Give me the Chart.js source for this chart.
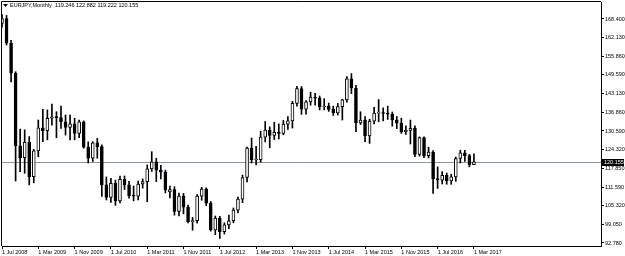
<!DOCTYPE html>
<html>
<head>
<meta charset="utf-8">
<script src="https://cdn.jsdelivr.net/npm/chart.js@4.4.0/dist/chart.umd.min.js"></script>
<style>
html, body { margin: 0; padding: 0; background: #fff; }
canvas { display: block; }
</style>
</head>
<body>
<canvas id="candles" width="625" height="256"></canvas>
<script>
// EURJPY monthly, first bar = Jul 2008
var symbol = 'EURJPY,Monthly';
var startYear = 2008;
var startMonth = 6; // 0 = Jan
var monthNames = ['Jan','Feb','Mar','Apr','May','Jun','Jul','Aug','Sep','Oct','Nov','Dec'];

var open = [166.9,168.5,160.2,150.1,125.6,121.6,126.8,115.2,123.9,131.7,130.7,134.9,135.4,135.1,133.7,131.8,133.0,129.8,133.7,125.1,
  121.4,126.6,125.3,112.4,108.2,112.9,107.0,114.3,112.4,108.8,108.6,112.7,113.5,117.8,120.2,117.4,116.7,110.0,110.8,103.4,
  108.6,104.9,100.0,100.3,108.6,111.0,106.2,97.2,101.2,96.6,98.9,100.3,103.9,107.6,114.9,124.8,120.8,120.9,128.5,130.9,
  129.1,130.1,129.8,132.9,134.0,139.9,144.9,138.0,140.4,142.0,141.7,138.7,139.0,137.9,136.7,138.8,141.1,148.2,145.1,133.3,
  134.3,128.9,133.9,136.6,136.8,136.5,136.3,134.3,133.2,130.4,130.8,131.5,122.7,128.4,122.3,123.5,114.5,114.0,115.6,113.7,
  115.1,121.3,123.2,122.3,119.246];
var high = [169.9,169.6,161.2,150.6,131.2,131.0,128.7,124.4,134.3,137.9,137.7,139.7,137.1,139.0,136.0,136.0,134.9,134.3,134.0,126.9,
  127.0,128.1,125.9,115.1,114.6,114.0,115.4,115.4,113.6,112.0,113.7,114.4,119.1,123.6,121.4,119.0,117.4,112.0,111.8,109.6,
  109.5,105.6,101.4,109.1,111.6,111.4,106.8,101.9,101.8,99.6,102.2,104.6,108.3,115.7,125.2,128.2,125.4,130.5,133.8,132.0,
  133.5,133.0,134.2,135.5,140.6,145.7,145.6,140.9,143.7,143.3,142.4,141.5,140.0,139.0,139.9,141.3,149.0,150.0,146.0,137.1,
  135.5,134.6,138.6,141.2,138.4,139.0,137.0,135.5,134.9,132.3,134.3,132.3,128.6,128.6,125.1,124.0,118.5,116.9,116.4,116.0,
  121.8,124.1,124.1,122.7,122.882];
var low = [165.6,159.6,147.2,113.7,116.9,116.3,112.4,113.1,121.9,127.0,127.6,132.6,128.3,131.5,129.2,127.6,127.6,128.3,124.8,119.8,
  120.3,121.4,108.5,107.3,106.5,105.5,106.3,110.8,107.9,107.0,107.3,111.3,106.7,116.9,113.5,114.4,109.7,108.0,102.2,101.9,
  102.6,99.6,97.1,99.5,107.2,105.4,96.8,95.6,94.3,95.8,97.6,99.6,102.9,106.4,113.4,119.8,119.1,120.1,126.9,124.9,
  127.7,127.9,129.3,131.1,131.6,139.0,136.2,136.3,139.3,139.3,137.7,137.7,137.2,135.8,136.0,134.3,140.3,143.2,130.4,132.8,
  127.0,126.4,133.0,133.7,134.0,134.5,132.2,131.4,129.8,129.4,126.2,121.9,122.1,121.6,121.5,109.5,111.2,112.7,112.6,112.6,
  113.6,119.8,120.3,118.5,119.222];
var close = [168.5,160.2,150.1,125.6,121.6,126.8,115.2,123.9,131.7,130.7,134.9,135.4,135.1,133.7,131.8,133.0,129.8,133.7,125.1,121.4,
  126.6,125.3,112.4,108.2,112.9,107.0,114.3,112.4,108.8,108.6,112.7,113.5,117.8,120.2,117.4,116.7,110.7,110.8,103.4,108.6,
  104.9,100.0,100.3,108.6,111.0,106.2,97.2,101.2,96.6,98.9,100.3,103.9,107.6,114.9,124.8,120.8,120.9,128.5,130.9,129.1,
  130.1,129.8,132.9,134.0,139.9,144.9,138.0,140.4,142.0,141.7,138.7,139.0,137.9,136.7,138.8,141.1,148.2,145.1,133.3,134.3,
  128.9,133.9,136.6,136.8,136.5,136.3,134.3,133.2,130.4,130.8,131.5,122.7,128.4,122.3,123.5,114.5,114.0,115.6,113.7,115.1,
  121.3,123.2,122.3,119.25,120.155];

// price scale labels as shown on the right
var priceTicks = [168.400,162.130,155.860,149.590,143.130,136.860,130.590,124.320,117.850,111.590,105.320,99.050,92.780];
var dateTickStep = 8; // a date label every 8 bars

var fontFamily = '"Liberation Sans", Arial, sans-serif';

function monthLabel(i) {
  var m = startMonth + i;
  return '1 ' + monthNames[m % 12] + ' ' + (startYear + Math.floor(m / 12));
}

var bodies = [], wicks = [], bodyColors = [];
for (var i = 0; i < open.length; i++) {
  bodies.push({ x: i, y: [open[i], close[i]] });
  wicks.push({ x: i, y: [low[i], high[i]] });
  bodyColors.push(close[i] >= open[i] ? '#ffffff' : '#000000');
}
var dateTicks = [];
for (var t = 0; t < open.length; t += dateTickStep) dateTicks.push(t);

var chartFrame = {
  id: 'chartFrame',
  beforeDatasetsDraw: function (chart) {
    var ctx = chart.ctx, a = chart.chartArea;
    var py = Math.round(chart.scales.y.getPixelForValue(close[close.length - 1])) + 0.5;
    ctx.save();
    ctx.strokeStyle = '#8a949e';
    ctx.lineWidth = 1;
    ctx.beginPath();
    ctx.moveTo(a.left, py);
    ctx.lineTo(a.right, py);
    ctx.stroke();
    ctx.restore();
  },
  afterDraw: function (chart) {
    var ctx = chart.ctx, a = chart.chartArea;
    var last = close.length - 1;
    ctx.save();
    // left and top frame lines
    ctx.strokeStyle = '#000';
    ctx.lineWidth = 1;
    ctx.beginPath();
    ctx.moveTo(a.left - 0.5, a.bottom);
    ctx.lineTo(a.left - 0.5, a.top - 0.5);
    ctx.lineTo(a.right, a.top - 0.5);
    ctx.stroke();
    // header
    ctx.fillStyle = '#000';
    ctx.beginPath();
    ctx.moveTo(3, 4); ctx.lineTo(8, 4); ctx.lineTo(5.5, 7); ctx.closePath();
    ctx.fill();
    ctx.font = '5.5px ' + fontFamily;
    ctx.textBaseline = 'middle';
    ctx.fillText(symbol, 10, 5.5);
    var ohlc = [open[last], high[last], low[last], close[last]].map(function (v) { return v.toFixed(3); }).join(' ');
    ctx.fillText(ohlc, 55, 5.5);
    // current price box
    var py = Math.round(chart.scales.y.getPixelForValue(close[last])) + 0.5;
    ctx.fillRect(a.right + 1, py - 3.5, 22, 7);
    ctx.fillStyle = '#fff';
    ctx.fillText(close[last].toFixed(3), a.right + 3, py);
    ctx.restore();
  }
};

var config = {
  type: 'bar',
  data: {
    datasets: [{
      label: 'body',
      data: bodies,
      backgroundColor: bodyColors,
      borderColor: '#000',
      borderWidth: 1,
      borderSkipped: false,
      barThickness: 3,
      minBarLength: 1,
      grouped: false,
      order: 0
    }, {
      label: 'wick',
      data: wicks,
      backgroundColor: '#000',
      borderWidth: 0,
      barThickness: 1,
      grouped: false,
      order: 1
    }]
  },
  options: {
    responsive: false,
    animation: false,
    devicePixelRatio: 1,
    layout: { padding: { top: 2, left: 2, right: 0, bottom: 0 } },
    plugins: { legend: { display: false }, tooltip: { enabled: false } },
    scales: {
      x: {
        type: 'linear',
        offset: false,
        min: 0,
        max: 132,
        afterBuildTicks: function (s) { s.ticks = dateTicks.map(function (v) { return { value: v }; }); },
        afterFit: function (s) { s.height = 10; s.paddingLeft = 0; s.paddingRight = 0; },
        grid: { offset: false, drawOnChartArea: false, tickLength: 3, color: '#000' },
        border: { display: true, color: '#000' },
        ticks: {
          align: 'start', autoSkip: false, maxRotation: 0, padding: 0, color: '#000',
          font: { family: fontFamily, size: 5.5 },
          callback: function (v) { return monthLabel(v); }
        }
      },
      y: {
        position: 'right',
        min: 91.767,
        max: 174.139,
        afterBuildTicks: function (s) { s.ticks = priceTicks.map(function (v) { return { value: v }; }); },
        afterFit: function (s) { s.width = 24; s.paddingTop = 0; s.paddingBottom = 0; },
        grid: { drawOnChartArea: false, tickLength: 3, color: '#000' },
        border: { display: true, color: '#000' },
        ticks: {
          padding: 1, color: '#000',
          font: { family: fontFamily, size: 5.5 },
          callback: function (v) { return v.toFixed(3); }
        }
      }
    }
  },
  plugins: [chartFrame]
};

window.onload = function () {
  var ctx = document.getElementById('candles').getContext('2d');
  window.myCandles = new Chart(ctx, config);
};
</script>
</body>
</html>
